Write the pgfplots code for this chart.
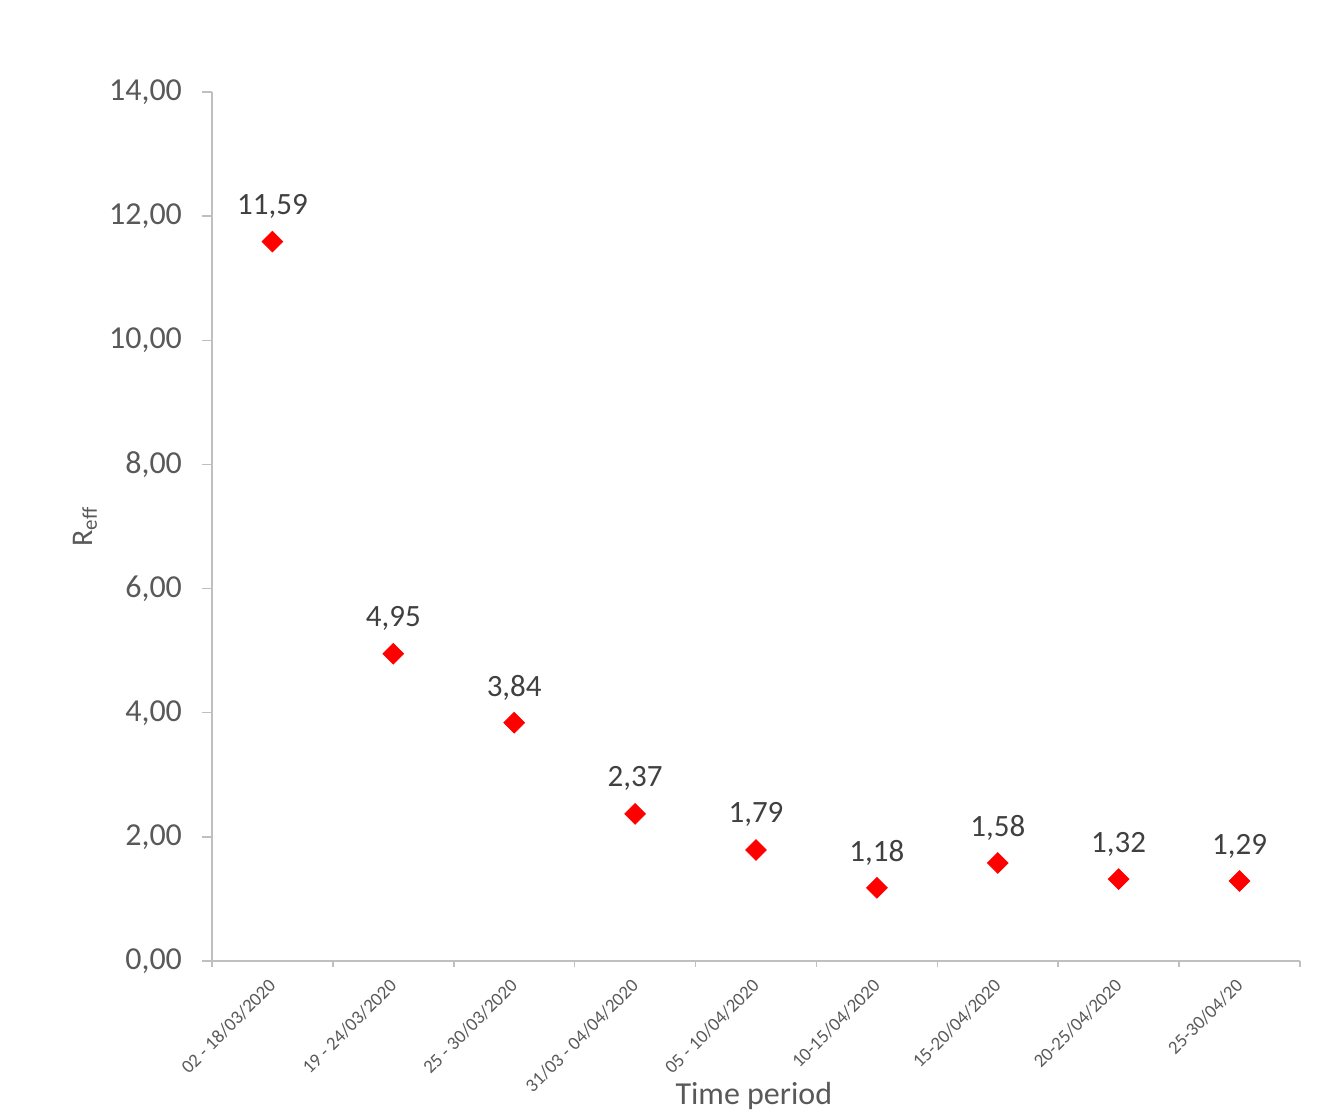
\documentclass[border=0pt]{standalone}
\usepackage{fontspec}
\setmainfont{Carlito}
\usepackage{pgfplots}
\pgfplotsset{compat=1.18}
\definecolor{axisgray}{HTML}{BFBFBF}
\definecolor{labelgray}{HTML}{595959}
\definecolor{datagray}{HTML}{404040}
\begin{document}
\begin{tikzpicture}
\useasboundingbox (-106pt,-77.5pt) rectangle (553pt,480.5pt);
\begin{axis}[
  scale only axis, width=544pt, height=434.5pt,
  xmin=0.5, xmax=9.5, ymin=0, ymax=14,
  axis x line*=bottom, axis y line*=left,
  axis line style={draw=axisgray, line width=0.75pt, -},
  xtick={0.5,1.5,...,9.5},
  xticklabels={02 - 18/03/2020, 19 - 24/03/2020, 25 - 30/03/2020, 31/03 - 04/04/2020, 05 - 10/04/2020, 10-15/04/2020, 15-20/04/2020, 20-25/04/2020, 25-30/04/20, {}},
  ytick={0,2,...,14},
  tick align=outside,
  major tick length=5pt,
  tick style={draw=axisgray, line width=0.75pt},
  xtick style={/pgfplots/major tick length=3pt},
  yticklabel style={/pgf/number format/.cd, fixed, fixed zerofill, precision=2, use comma, assume math mode=true, /tikz/.cd,
    xshift=-6.5pt, font=\fontsize{16}{19}\selectfont, text=labelgray},
  xticklabel style={xshift=31pt, yshift=-5pt, rotate=45, anchor=east, inner sep=1pt,
    font=\fontsize{9.4}{11}\selectfont, text=labelgray},
  xlabel={Time period},
  xlabel style={at={(axis description cs:0.498,-0.155)}, anchor=center, font=\fontsize{16}{19}\selectfont, text=labelgray},
  ylabel={R\textsubscript{eff}},
  ylabel style={at={(axis description cs:-0.1167,0.5)}, anchor=center, font=\fontsize{15}{18}\selectfont, text=labelgray},
  every node near coord/.append style={anchor=center, yshift=17.5pt, font=\fontsize{15.5}{18}\selectfont, text=datagray},
]
\addplot[only marks, mark=square*, mark size=3.65pt, mark options={rotate=45, fill=red, draw=red},
  nodes near coords, point meta=explicit symbolic]
  table[meta=label] {
x y label
1 11.59 11,59
2 4.95 4,95
3 3.84 3,84
4 2.37 2,37
5 1.79 1,79
6 1.18 1,18
7 1.58 1,58
8 1.32 1,32
9 1.29 1,29
};
\end{axis}
\end{tikzpicture}
\end{document}
